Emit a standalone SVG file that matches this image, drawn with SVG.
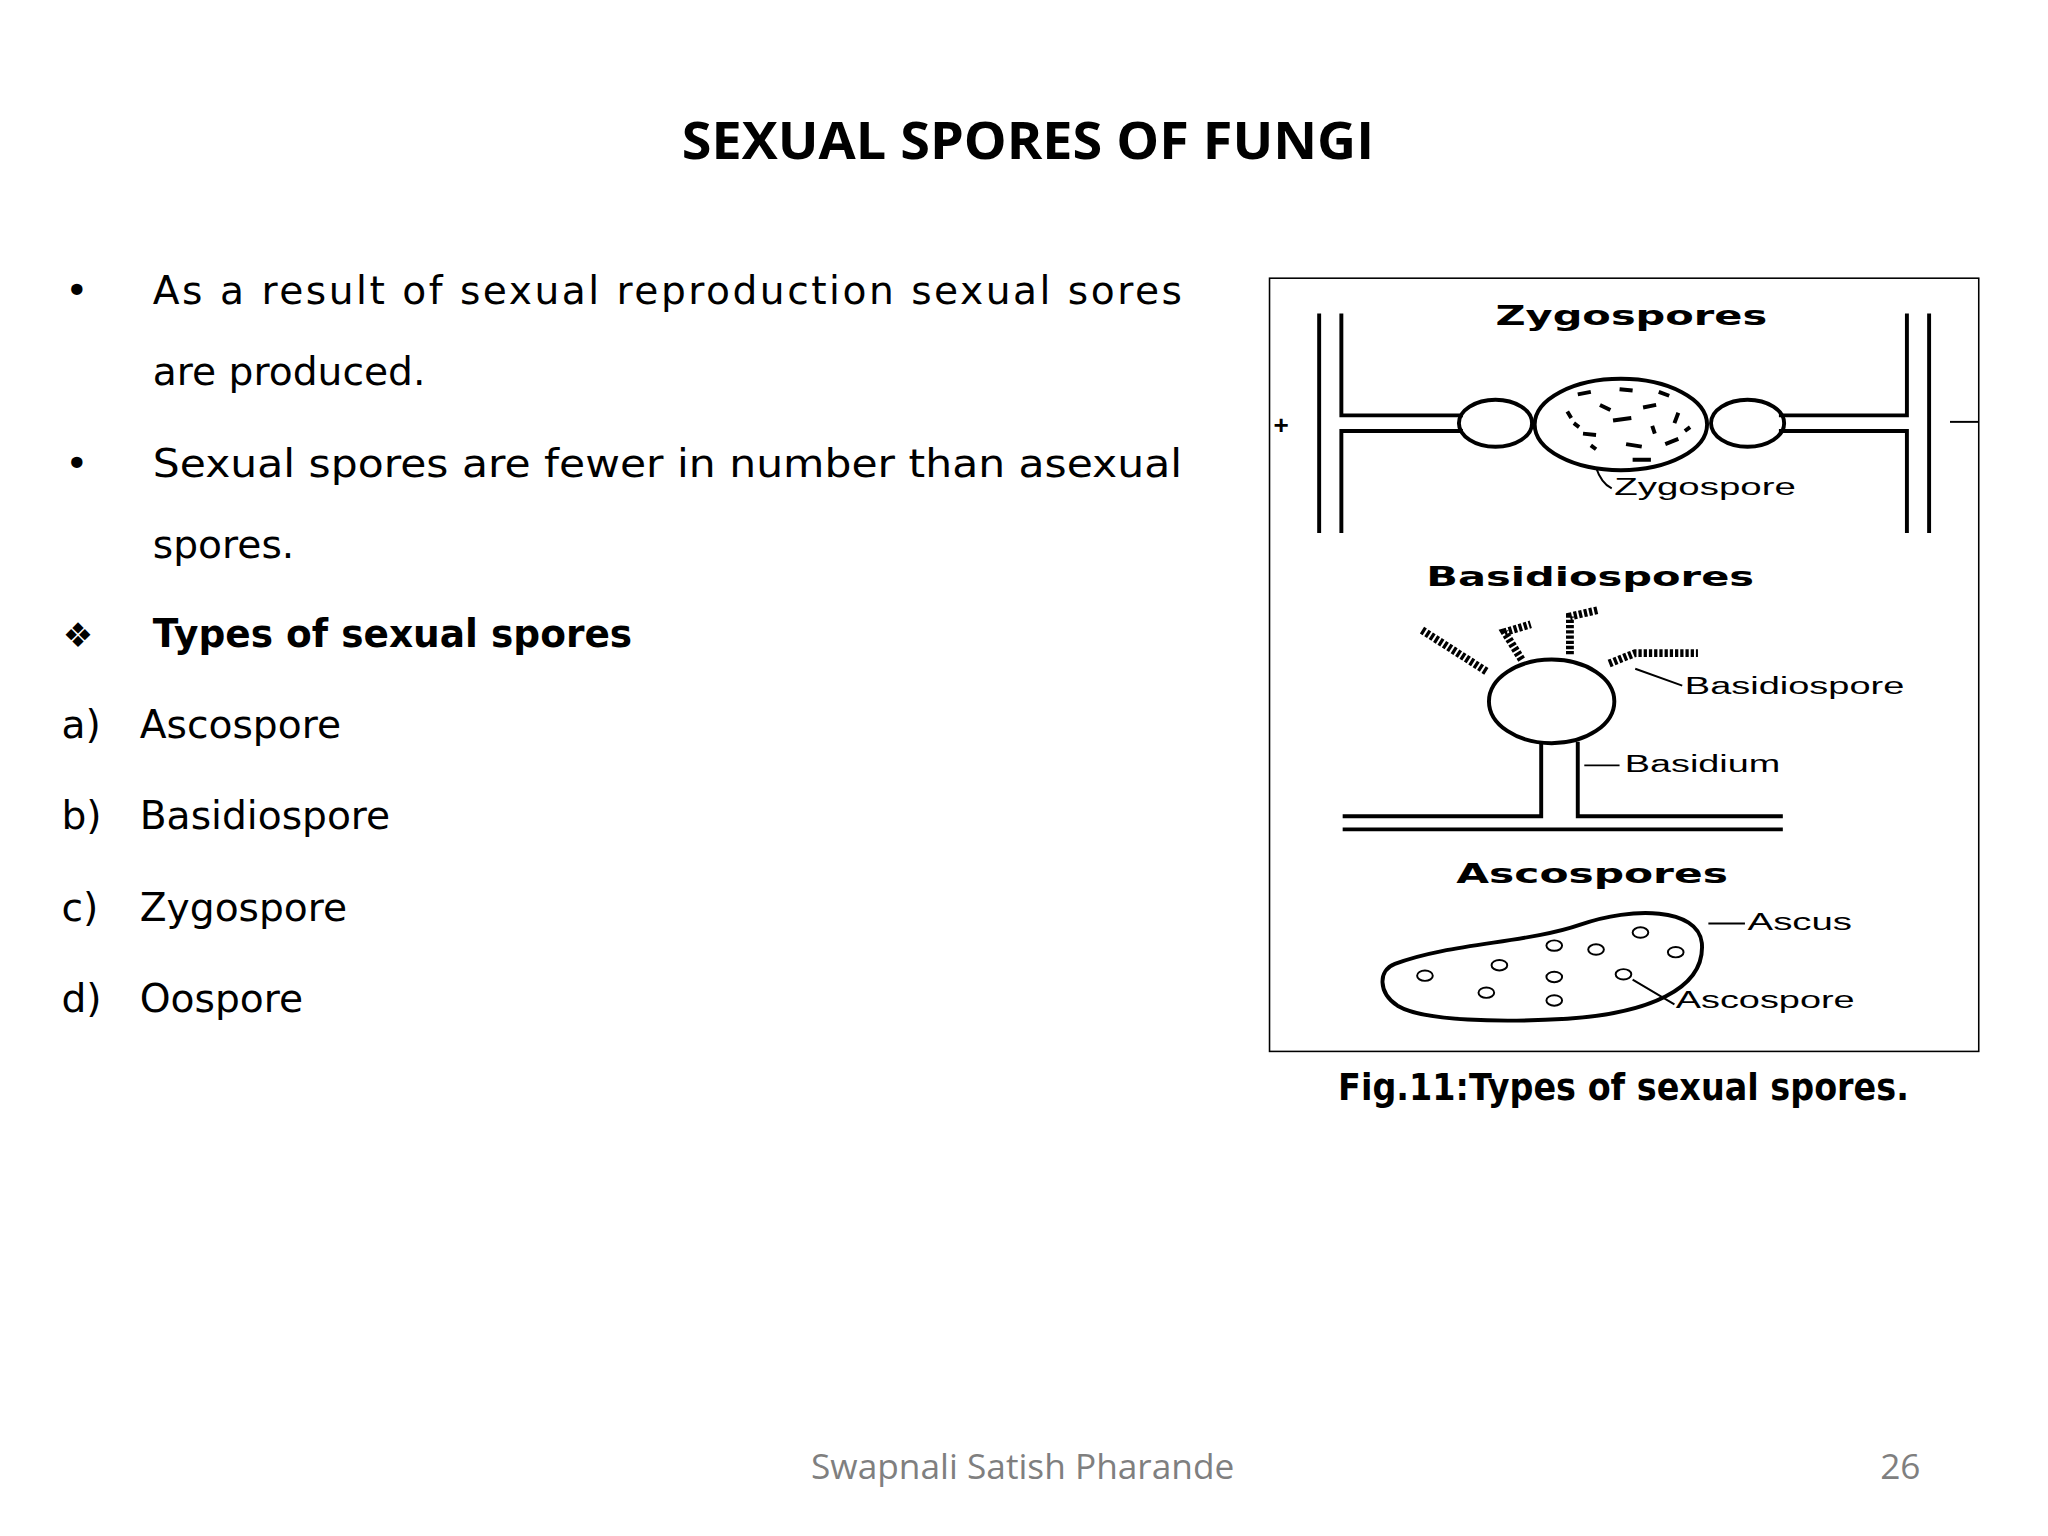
<svg xmlns="http://www.w3.org/2000/svg" width="2048" height="1536" viewBox="0 0 2048 1536">
<style>
.t{font-family:"DejaVu Sans","Liberation Sans",sans-serif;fill:#000}
.b{font-size:30px}
.ft{font-family:"DejaVu Sans","Liberation Sans",sans-serif;font-weight:bold;font-size:21px}
.fl{font-family:"Liberation Sans",Arial,sans-serif;font-size:18px}
.ln{fill:none;stroke:#000;stroke-width:3}
.thin{fill:none;stroke:#000;stroke-width:1.5}
.ch{fill:none;stroke:#000;stroke-width:6;stroke-dasharray:2.5 1.5}
</style>
<rect width="2048" height="1536" fill="#fff"/>
<g transform="scale(1.3061)">
<g id="title"><text x="787" y="122" text-anchor="middle" font-weight="bold" font-size="40" font-family="'Open Sans',sans-serif" textLength="530" lengthAdjust="spacingAndGlyphs">SEXUAL SPORES OF FUNGI</text></g>
<g id="body">
<text class="t b" x="50" y="233">•</text>
<text class="t b" x="117" y="233" textLength="788" lengthAdjust="spacing">As a result of sexual reproduction sexual sores</text>
<text class="t b" x="117" y="295">are produced.</text>
<text class="t b" x="50" y="365">•</text>
<text class="t b" x="117" y="365" textLength="788" lengthAdjust="spacingAndGlyphs">Sexual spores are fewer in number than asexual</text>
<text class="t b" x="117" y="427">spores.</text>
<text class="t" x="48" y="495" font-size="26">❖</text>
<text class="t b" x="117" y="495" font-weight="bold" textLength="367" lengthAdjust="spacingAndGlyphs">Types of sexual spores</text>
<text class="t b" x="47" y="565">a)</text><text class="t b" x="107" y="565">Ascospore</text>
<text class="t b" x="47" y="635">b)</text><text class="t b" x="107" y="635">Basidiospore</text>
<text class="t b" x="47" y="705">c)</text><text class="t b" x="107" y="705">Zygospore</text>
<text class="t b" x="47" y="775">d)</text><text class="t b" x="107" y="775">Oospore</text>
</g>
<g id="figure">
<rect x="972" y="213" width="543" height="592" fill="#fff" stroke="#000" stroke-width="1.2"/>
<text class="ft" x="1145" y="249" textLength="208" lengthAdjust="spacingAndGlyphs">Zygospores</text>
<text class="ft" x="1092" y="449" textLength="251" lengthAdjust="spacingAndGlyphs">Basidiospores</text>
<text class="ft" x="1115" y="676" textLength="208" lengthAdjust="spacingAndGlyphs">Ascospores</text>
<g id="zygo">
<path class="ln" d="M1010 240V408M1027 240V318H1120M1027 408V330H1120M1477 240V408M1460 240V318H1362M1460 408V330H1362"/>
<ellipse class="ln" cx="1145" cy="324" rx="28" ry="18"/>
<ellipse class="ln" cx="1338" cy="324" rx="28" ry="18"/>
<ellipse class="ln" cx="1241" cy="325" rx="66" ry="35" fill="#fff"/>
<path stroke="#000" stroke-width="3" d="M1208 302l10-2M1240 298l10 1M1270 300l8 3M1200 315l3 5M1225 310l8 4M1258 312l10-2M1285 316l-3 8M1212 332l10 1M1235 322l14-2M1265 326l2 6M1222 344l-4-3M1245 340l12 2M1275 340l10-4M1205 324l4 3M1290 330l4-3M1250 352l14 0"/>
<path class="thin" d="M1222 358q4 12 12 16"/>
<text class="fl" x="1236" y="379" textLength="139" lengthAdjust="spacingAndGlyphs">Zygospore</text>
<text x="975" y="332" font-family="'Liberation Sans',sans-serif" font-size="20" font-weight="bold">+</text>
<path class="thin" d="M1493 323H1515"/>
</g>
<g id="basidium">
<path class="ln" d="M1180 568V625H1028M1208 568V625H1365M1028 635H1365"/>
<ellipse class="ln" cx="1188" cy="537" rx="48" ry="32"/>
<path class="ch" d="M1138 514L1088 482M1165 505L1152 484L1172 478M1202 501V472L1224 467M1232 508L1252 500H1300"/>
<path class="thin" d="M1252 512L1288 525M1213 586H1240"/>
<text class="fl" x="1290" y="531" textLength="168" lengthAdjust="spacingAndGlyphs">Basidiospore</text>
<text class="fl" x="1244" y="591" textLength="119" lengthAdjust="spacingAndGlyphs">Basidium</text>
</g>
<g id="ascus">
<path class="ln" d="M1068 738C1110 722 1170 722 1210 708C1250 694 1300 695 1303 722C1306 758 1260 776 1200 780C1150 783 1090 782 1070 770C1055 760 1055 743 1068 738Z"/>
<g class="thin" stroke-width="3">
<ellipse cx="1091" cy="747" rx="6" ry="4"/><ellipse cx="1148" cy="739" rx="6" ry="4"/><ellipse cx="1138" cy="760" rx="6" ry="4"/>
<ellipse cx="1190" cy="724" rx="6" ry="4"/><ellipse cx="1222" cy="727" rx="6" ry="4"/><ellipse cx="1256" cy="714" rx="6" ry="4"/>
<ellipse cx="1283" cy="729" rx="6" ry="4"/><ellipse cx="1190" cy="748" rx="6" ry="4"/><ellipse cx="1190" cy="766" rx="6" ry="4"/>
<ellipse cx="1243" cy="746" rx="6" ry="4"/>
</g>
<path class="thin" d="M1308 707H1336M1250 750L1282 769"/>
<text class="fl" x="1338" y="712" textLength="80" lengthAdjust="spacingAndGlyphs">Ascus</text>
<text class="fl" x="1283" y="772" textLength="137" lengthAdjust="spacingAndGlyphs">Ascospore</text>
</g>
</g>
<g id="caption"><text class="t" x="1243" y="842" text-anchor="middle" font-weight="bold" font-size="28" textLength="437" lengthAdjust="spacingAndGlyphs">Fig.11:Types of sexual spores.</text></g>
<g id="footer">
<text x="783" y="1132" text-anchor="middle" font-family="'Open Sans',sans-serif" font-size="27" fill="#7f7f7f">Swapnali Satish Pharande</text>
<text x="1455" y="1132" text-anchor="middle" font-family="'Open Sans',sans-serif" font-size="27" fill="#7f7f7f">26</text>
</g>
</g>
</svg>
